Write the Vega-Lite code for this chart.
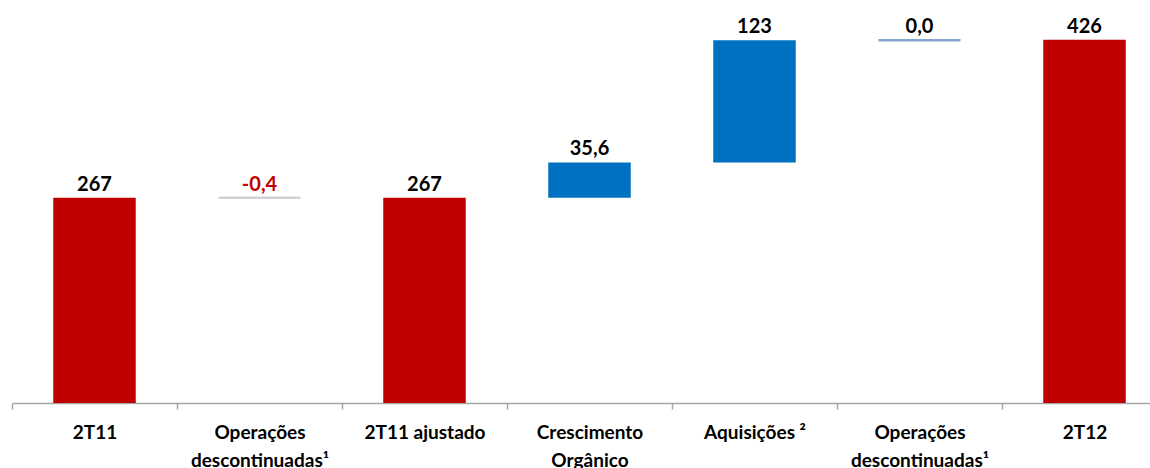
{
  "$schema": "https://vega.github.io/schema/vega-lite/v6.json",
  "width": 1155,
  "height": 403,
  "autosize": "none",
  "padding": {"left": 12, "top": 0, "right": 0, "bottom": 65},
  "background": "white",
  "config": {"view": {"stroke": null}, "font": "Lato"},
  "data": {
    "values": [
      {"cat": "2T11", "start": 0, "end": 267, "label": "267", "kind": "total"},
      {"cat": "Operações|descontinuadas¹", "start": 267, "end": 266.6, "label": "-0,4", "kind": "neg"},
      {"cat": "2T11 ajustado", "start": 0, "end": 267, "label": "267", "kind": "total"},
      {"cat": "Crescimento|Orgânico", "start": 267, "end": 302.6, "label": "35,6", "kind": "inc"},
      {"cat": "Aquisições ²", "start": 302.6, "end": 425.6, "label": "123", "kind": "inc"},
      {"cat": "Operações|descontinuadas¹ ", "start": 425.6, "end": 425.6, "label": "0,0", "kind": "zero"},
      {"cat": "2T12", "start": 0, "end": 426, "label": "426", "kind": "total"}
    ]
  },
  "encoding": {
    "x": {
      "field": "cat",
      "type": "nominal",
      "scale": {
        "domain": ["2T11", "Operações|descontinuadas¹", "2T11 ajustado", "Crescimento|Orgânico", "Aquisições ²", "Operações|descontinuadas¹ ", "2T12"],
        "paddingInner": 0.5,
        "paddingOuter": 0.25
      },
      "axis": {
        "title": null,
        "labelAngle": 0,
        "domainColor": "#a6a6a6",
        "domainWidth": 1.5,
        "tickColor": "#a6a6a6",
        "tickWidth": 1.5,
        "tickSize": 6,
        "tickOffset": -82.5,
        "labelOffset": 82.5,
        "labelFont": "Lato",
        "labelFontWeight": "bold",
        "labelFontSize": 19,
        "labelColor": "#000000",
        "labelPadding": 14,
        "labelLineHeight": 28,
        "labelLimit": 0,
        "labelExpr": "datum.value ? split(trim(datum.value), '|') : ''"
      }
    }
  },
  "layer": [
    {
      "transform": [{"filter": "datum.kind == 'total' || datum.kind == 'inc'"}],
      "mark": {"type": "bar", "clip": true},
      "encoding": {
        "y": {"field": "start", "type": "quantitative", "scale": {"domain": [60.7, 466], "zero": false, "nice": false}, "axis": null},
        "y2": {"field": "end"},
        "color": {"field": "kind", "type": "nominal", "scale": {"domain": ["total", "inc", "neg", "zero"], "range": ["#c00000", "#0070c0", "#bfbfbf", "#4f81bd"]}, "legend": null}
      }
    },
    {
      "transform": [{"filter": "datum.kind == 'neg' || datum.kind == 'zero'"}],
      "mark": {"type": "tick", "orient": "horizontal", "thickness": 2.5, "size": 82},
      "encoding": {
        "y": {"field": "start", "type": "quantitative"},
        "color": {"field": "kind", "type": "nominal", "scale": {"domain": ["total", "inc", "neg", "zero"], "range": ["#c00000", "#0070c0", "#bfbfbf", "#4f81bd"]}, "legend": null}
      }
    },
    {
      "mark": {"type": "text", "font": "Lato", "fontWeight": "bold", "fontSize": 20, "baseline": "alphabetic", "dy": -7},
      "encoding": {
        "y": {"field": "end", "type": "quantitative"},
        "text": {"field": "label"},
        "color": {"field": "kind", "type": "nominal", "scale": {"domain": ["total", "inc", "neg", "zero"], "range": ["#000000", "#000000", "#c00000", "#000000"]}, "legend": null}
      }
    }
  ],
  "resolve": {"scale": {"color": "independent"}}
}
